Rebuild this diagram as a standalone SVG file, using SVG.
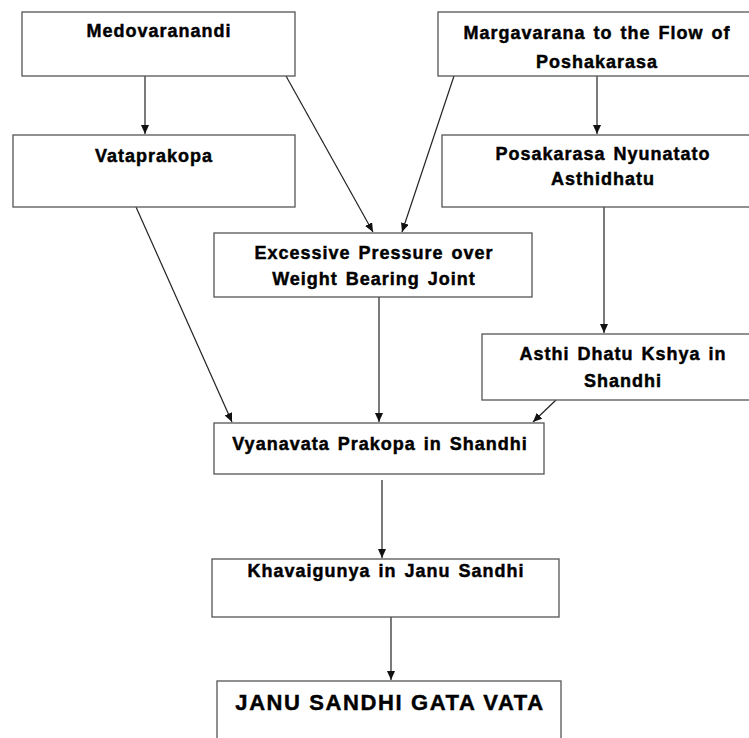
<svg xmlns="http://www.w3.org/2000/svg" width="749" height="738" viewBox="0 0 749 738">
<defs>
<marker id="ah" markerUnits="userSpaceOnUse" markerWidth="9" markerHeight="8" refX="9" refY="4" orient="auto">
<path d="M0,0 L9,4 L0,8 z" fill="#111"/>
</marker>
<style>
.box{fill:#fff;stroke:#555;stroke-width:1.3}
.t{font-family:"Liberation Sans",Arial,sans-serif;font-weight:bold;font-size:18px;letter-spacing:1px;word-spacing:2px;fill:#000;stroke:#000;stroke-width:0.45;text-anchor:middle}
.big{font-size:22px;letter-spacing:1.6px;word-spacing:0}
.c line{stroke:#222;stroke-width:1.2;marker-end:url(#ah)}
</style>
</defs>
<rect width="749" height="738" fill="#fff"/>
<g class="c" id="connectors">
<line x1="145" y1="76" x2="145" y2="134"/>
<line x1="597" y1="76" x2="597" y2="134"/>
<line x1="286" y1="76" x2="373" y2="232"/>
<line x1="454" y1="76" x2="402" y2="232"/>
<line x1="136" y1="207" x2="232" y2="422"/>
<line x1="379" y1="297" x2="379" y2="422"/>
<line x1="604" y1="207" x2="604" y2="333"/>
<line x1="556" y1="400" x2="533" y2="422"/>
<line x1="382" y1="480" x2="382" y2="558"/>
<line x1="391" y1="617" x2="391" y2="680"/>
</g>
<g id="medovaranandi">
<rect class="box" x="22" y="12" width="273" height="64"/>
<text class="t" x="159" y="37">Medovaranandi</text>
</g>
<g id="margavarana">
<rect class="box" x="438" y="12" width="320" height="64"/>
<text class="t" x="597" y="39">Margavarana to the Flow of</text>
<text class="t" x="597" y="68">Poshakarasa</text>
</g>
<g id="vataprakopa">
<rect class="box" x="13" y="135" width="282" height="72"/>
<text class="t" x="154" y="162">Vataprakopa</text>
</g>
<g id="posakarasa">
<rect class="box" x="442" y="135" width="316" height="72"/>
<text class="t" x="603" y="160">Posakarasa Nyunatato</text>
<text class="t" x="603" y="185">Asthidhatu</text>
</g>
<g id="excessive">
<rect class="box" x="214" y="233" width="318" height="64"/>
<text class="t" x="374" y="259">Excessive Pressure over</text>
<text class="t" x="374" y="285">Weight Bearing Joint</text>
</g>
<g id="asthi">
<rect class="box" x="482" y="334" width="276" height="66"/>
<text class="t" x="623" y="360">Asthi Dhatu Kshya in</text>
<text class="t" x="623" y="387">Shandhi</text>
</g>
<g id="vyanavata">
<rect class="box" x="214" y="423" width="330" height="51"/>
<text class="t" x="380" y="450">Vyanavata Prakopa in Shandhi</text>
</g>
<g id="khavaigunya">
<rect class="box" x="212" y="559" width="347" height="58"/>
<text class="t" x="386" y="577">Khavaigunya in Janu Sandhi</text>
</g>
<g id="janu">
<rect class="box" x="217" y="681" width="344" height="70"/>
<text class="t big" x="390" y="710">JANU SANDHI GATA VATA</text>
</g>
</svg>
